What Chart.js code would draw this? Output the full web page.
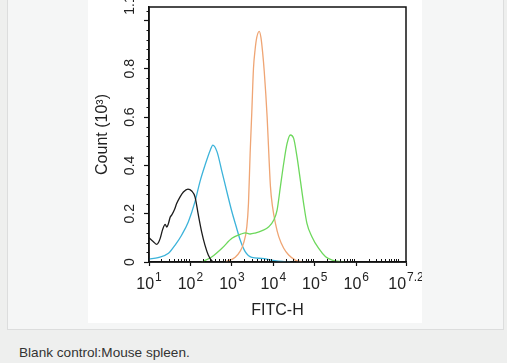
<!DOCTYPE html>
<html>
<head>
<meta charset="utf-8">
<script src="https://cdn.jsdelivr.net/npm/chart.js@4"></script>
<style>
  body { margin: 0; width: 507px; height: 363px; overflow: hidden; background: #eeefee; font-family: 'Liberation Sans', Arial, sans-serif; }
  #box { position: absolute; left: 7px; top: -2px; width: 497px; height: 332px; box-sizing: border-box; background: #f5f6f6; border: 1px solid #dcdddd; }
  #panel { position: absolute; left: 88px; top: 0; width: 334px; height: 323px; background: #fff; }
  #cap { position: absolute; left: 19px; top: 346px; font-size: 13.6px; line-height: 14px; color: #333; white-space: nowrap; }
</style>
</head>
<body>
<div id="box"></div>
<div id="panel"><canvas id="histo" width="334" height="323"></canvas></div>
<div id="cap">Blank control:Mouse spleen.</div>
<script>
// x positions are log10(FITC-H), y is count (10^3)
const blackExp = [1.00, 1.10, 1.19, 1.24, 1.27, 1.33, 1.39, 1.43, 1.47, 1.51, 1.55, 1.61, 1.67, 1.75, 1.83, 1.94, 2.03, 2.11, 2.19, 2.27, 2.35, 2.43, 2.52, 2.60];
const blackCount = [0.10, 0.085, 0.073, 0.085, 0.098, 0.135, 0.156, 0.145, 0.16, 0.185, 0.195, 0.215, 0.243, 0.27, 0.29, 0.302, 0.294, 0.27, 0.195, 0.125, 0.07, 0.029, 0.004, 0];

const blueExp = [1.00, 1.22, 1.47, 1.63, 1.79, 1.95, 2.11, 2.23, 2.35, 2.48, 2.54, 2.64, 2.76, 2.88, 3.00, 3.11, 3.20, 3.32, 3.48, 3.72, 3.96, 4.21, 4.41];
const blueCount = [0.012, 0.018, 0.036, 0.07, 0.112, 0.167, 0.25, 0.333, 0.40, 0.464, 0.484, 0.457, 0.374, 0.29, 0.208, 0.143, 0.091, 0.043, 0.019, 0.015, 0.008, 0.002, 0];

const orangeExp = [2.84, 3.08, 3.20, 3.28, 3.36, 3.40, 3.44, 3.48, 3.52, 3.56, 3.60, 3.66, 3.70, 3.74, 3.78, 3.85, 3.89, 3.93, 3.98, 4.05, 4.13, 4.25, 4.37, 4.53, 4.69];
const orangeCount = [0, 0.02, 0.045, 0.077, 0.146, 0.243, 0.45, 0.62, 0.80, 0.88, 0.93, 0.955, 0.93, 0.87, 0.79, 0.60, 0.45, 0.312, 0.229, 0.16, 0.105, 0.057, 0.029, 0.008, 0];

const greenExp = [2.27, 2.52, 2.76, 3.00, 3.24, 3.32, 3.44, 3.56, 3.73, 3.89, 4.01, 4.09, 4.17, 4.25, 4.33, 4.41, 4.49, 4.57, 4.65, 4.73, 4.81, 4.93, 5.09, 5.26, 5.42, 5.58, 5.74];
const greenCount = [0, 0.022, 0.057, 0.098, 0.117, 0.121, 0.116, 0.12, 0.13, 0.146, 0.174, 0.215, 0.312, 0.409, 0.49, 0.526, 0.512, 0.436, 0.34, 0.243, 0.16, 0.105, 0.057, 0.022, 0.008, 0.002, 0];

const xTickExps = [1, 2, 3, 4, 5, 6, 7.2];
const xTickSup = ['1', '2', '3', '4', '5', '6', '7.2'];
const yTicks = [0, 0.2, 0.4, 0.6, 0.8, 1.0];
const yTickLabels = ['0', '0.2', '0.4', '0.6', '0.8', ''];
const yMax = 1.056;
const yMaxLabel = '1.1';

const toPoints = (exps, counts) => exps.map((e, i) => ({ x: Math.pow(10, e), y: counts[i] }));

const line = (data, color) => ({
  data: data,
  borderColor: color,
  borderWidth: 1.3,
  pointRadius: 0,
  fill: false,
  tension: 0.35,
  cubicInterpolationMode: 'monotone'
});

const fontFam = "'Liberation Sans', Arial, sans-serif";

// minor ticks and rotated/superscript labels
const axisDecor = {
  id: 'axisDecor',
  afterDraw(chart) {
    const { ctx, chartArea: a, scales: { x, y } } = chart;
    ctx.save();
    ctx.strokeStyle = '#111';
    ctx.lineWidth = 1.5;
    ctx.strokeRect(a.left, a.top, a.right - a.left, a.bottom - a.top);

    ctx.lineWidth = 1;
    ctx.beginPath();
    for (let d = 1; d <= 6; d++) {
      for (let m = 2; m <= 9; m++) {
        const px = Math.round(x.getPixelForValue(m * Math.pow(10, d))) + 0.5;
        ctx.moveTo(px, a.bottom);
        ctx.lineTo(px, a.bottom - 3);
      }
    }
    const p7 = Math.round(x.getPixelForValue(1e7)) + 0.5;
    ctx.moveTo(p7, a.bottom);
    ctx.lineTo(p7, a.bottom - 3);
    for (let v = 0.04; v < yMax; v += 0.04) {
      if (Math.abs(v / 0.2 - Math.round(v / 0.2)) < 0.01) continue;
      const py = Math.round(y.getPixelForValue(v)) + 0.5;
      ctx.moveTo(a.left, py);
      ctx.lineTo(a.left - 2.5, py);
    }
    ctx.stroke();

    ctx.fillStyle = '#222';
    ctx.textBaseline = 'alphabetic';
    xTickExps.forEach((e, i) => {
      const px = x.getPixelForValue(Math.pow(10, e));
      ctx.font = '16px ' + fontFam;
      const wb = ctx.measureText('10').width;
      ctx.font = '12px ' + fontFam;
      const ws = ctx.measureText(xTickSup[i]).width;
      const left = px - (wb + ws + 1) / 2;
      ctx.textAlign = 'left';
      ctx.font = '16px ' + fontFam;
      ctx.fillText('10', left, 289);
      ctx.font = '12px ' + fontFam;
      ctx.fillText(xTickSup[i], left + wb + 1, 281);
    });

    ctx.font = '14px ' + fontFam;
    ctx.textAlign = 'center';
    ctx.textBaseline = 'middle';
    const drawY = (txt, py) => {
      ctx.save();
      ctx.translate(42.5, py);
      ctx.rotate(-Math.PI / 2);
      ctx.fillText(txt, 0, 0);
      ctx.restore();
    };
    yTicks.forEach((v, i) => { if (yTickLabels[i]) drawY(yTickLabels[i], y.getPixelForValue(v)); });
    drawY(yMaxLabel, a.top - 2);
    ctx.restore();
  }
};

new Chart(document.getElementById('histo'), {
  type: 'line',
  data: {
    datasets: [
      line(toPoints(blackExp, blackCount), '#1c1c1c'),
      line(toPoints(greenExp, greenCount), '#6dd85c'),
      line(toPoints(orangeExp, orangeCount), '#efa574'),
      line(toPoints(blueExp, blueCount), '#3cb3da')
    ]
  },
  plugins: [axisDecor],
  options: {
    responsive: false,
    animation: false,
    layout: { padding: { left: 0, top: 7, right: 16, bottom: 0 } },
    plugins: { legend: { display: false }, tooltip: { enabled: false } },
    scales: {
      x: {
        type: 'logarithmic',
        min: 10,
        max: Math.pow(10, 7.2),
        afterBuildTicks: (s) => { s.ticks = xTickExps.map(e => ({ value: Math.pow(10, e) })); },
        afterFit: (s) => { s.height = 61; },
        ticks: { display: false },
        grid: { drawOnChartArea: false, drawTicks: true, tickLength: 4, tickColor: '#111', tickWidth: 1.2 },
        border: { display: true, color: '#111', width: 1.5 },
        title: { display: true, text: 'FITC-H', color: '#222', font: { size: 16, family: fontFam }, padding: { top: 0, bottom: 3 } }
      },
      y: {
        min: 0,
        max: yMax,
        afterBuildTicks: (s) => { s.ticks = yTicks.map(v => ({ value: v })); },
        afterFit: (s) => { s.width = 61; },
        ticks: { display: false },
        grid: { drawOnChartArea: false, drawTicks: true, tickLength: 5, tickColor: '#111', tickWidth: 1.2 },
        border: { display: true, color: '#111', width: 1.5 },
        title: { display: true, text: 'Count (10³)', color: '#222', font: { size: 16, family: fontFam }, padding: { top: 5, bottom: 0 } }
      }
    }
  }
});
</script>
</body>
</html>
